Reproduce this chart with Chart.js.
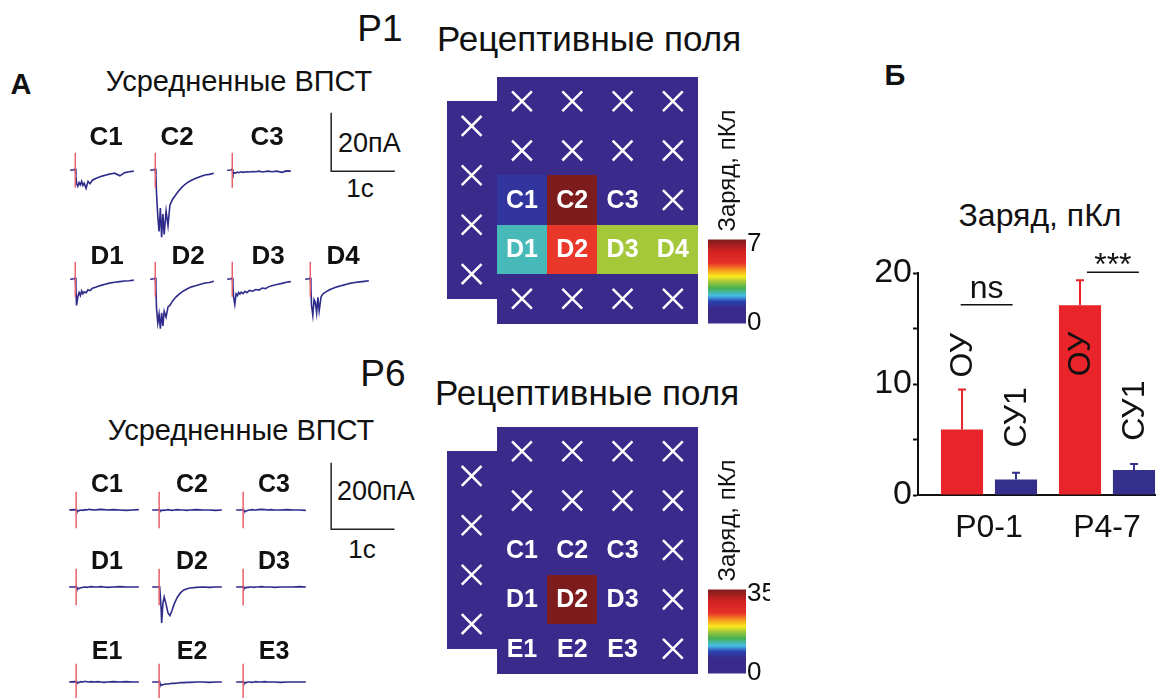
<!DOCTYPE html>
<html>
<head>
<meta charset="utf-8">
<script src="https://cdn.jsdelivr.net/npm/chart.js@4.4.1/dist/chart.umd.min.js"></script>
<style>
  body { margin: 0; width: 1156px; height: 698px; overflow: hidden; background: #fff; position: relative;
         font-family: 'Liberation Sans', Arial, sans-serif; color: #111; }
  canvas { position: absolute; }
  .t { position: absolute; transform: translate(-50%, -50%); line-height: 1; white-space: nowrap; }
  .l { transform: translate(0, -50%); }
  .b { font-weight: bold; }
</style>
</head>
<body>
<div class="t b" style="left:21px;top:84px;font-size:29px">А</div>
<div class="t b" style="left:895px;top:75px;font-size:29px">Б</div>

<div class="t" style="left:380px;top:28px;font-size:37px">P1</div>
<div class="t" style="left:589px;top:38px;font-size:35px">Рецептивные поля</div>
<div class="t" style="left:239px;top:81px;font-size:29px">Усредненные ВПСТ</div>
<div class="t l" style="left:338px;top:143px;font-size:27px">20пА</div>
<div class="t" style="left:360px;top:188px;font-size:26px">1с</div>

<div class="t" style="left:383px;top:373px;font-size:37px">P6</div>
<div class="t" style="left:587px;top:392px;font-size:35px">Рецептивные поля</div>
<div class="t" style="left:241px;top:430px;font-size:29px">Усредненные ВПСТ</div>
<div class="t l" style="left:337px;top:491px;font-size:27px">200пА</div>
<div class="t" style="left:362px;top:549px;font-size:26px">1с</div>

<div class="t" style="left:1040px;top:215px;font-size:32px">Заряд, пКл</div>

<script>
// ---- averaged EPSC traces, P1 (time in s, current in pA) ----
const tP1 = [0, 0.06, 0.08, 0.09, 0.10, 0.12, 0.14, 0.16, 0.18, 0.20, 0.22, 0.25, 0.28,
             0.31, 0.35, 0.40, 0.45, 0.50, 0.55, 0.60, 0.65, 0.70, 0.78, 0.86, 0.93, 1.0];
const p1C1 = [0, 0.2, 0.5, -2, -4.5, -5.5, -4.2, -5, -3.8, -5.2, -4.4, -6.2, -3.8, -4.6, -3.4, -2.8, -2.4, -2.0, -1.7, -1.4, -1.2, -1.0, -1.9, -0.8, -0.5, -0.3];
const p1C2 = [0, 0.2, 0.5, -2, -8, -16, -21, -13, -23, -15, -22, -14, -19, -12, -10, -8.5, -7, -5.8, -4.8, -4, -3.4, -2.9, -2.2, -1.6, -1.4, -1.0];
const p1C3 = [0, 0.1, 0.4, -0.6, -1.1, -0.8, -0.9, -0.6, -0.8, -0.7, -0.5, -0.7, -0.6, -0.5, -0.6, -0.4, -0.5, -0.3, -0.6, -0.4, -0.3, -0.5, -0.3, -0.7, -0.2, -0.3];
const p1D1 = [0, 0.2, 0.5, -3, -9, -6, -4.5, -5.6, -4, -5, -4.3, -4.6, -3.6, -3.9, -3.1, -2.7, -2.3, -2.0, -1.7, -1.4, -1.2, -1.0, -0.8, -0.6, -0.5, -0.3];
const p1D2 = [0, 0.2, 0.5, -3, -10, -15, -12, -17, -11.5, -16, -11, -13, -9.5, -9, -7.5, -6.2, -5.2, -4.3, -3.7, -3.1, -2.6, -2.3, -1.8, -1.3, -1.1, -0.7];
const p1D3 = [0, 0.2, 0.5, -2, -6, -8.6, -5, -5.6, -4.5, -5.1, -4.4, -4.9, -4.1, -4.6, -3.8, -4.1, -3.5, -3.7, -3.0, -3.2, -2.6, -2.2, -1.8, -1.4, -1.0, -0.8];
const p1D4 = [0, 0.2, 0.5, -3, -9, -12.4, -7, -8, -11.5, -6.2, -10.8, -6, -5, -4.6, -4, -3.4, -3, -2.6, -2.3, -2, -1.7, -1.4, -1.1, -0.9, -0.7, -0.5];
const stimP1 = 0.08;

// ---- averaged EPSC traces, P6 ----
const tP6 = [0, 0.08, 0.10, 0.11, 0.12, 0.14, 0.15, 0.17, 0.19, 0.22, 0.25, 0.28,
             0.31, 0.35, 0.40, 0.45, 0.50, 0.55, 0.60, 0.70, 0.80, 0.90, 1.0, 1.1];
const p6C1 = [0, 1, 0, 2, -2, -3, -2, -1, 0, -1, 1, 0, 2, 1, 0, 1, 2, 1, 0, 1, 0, -1, 0, 1];
const p6C2 = [0, 0, 1, 2, -1, -2, -1, 0, -1, 0, 1, 0, -1, 0, 1, 0, 0, -1, 0, 1, 0, 0, -1, 0];
const p6C3 = [0, 0, 1, 2, -2, -4, -3, -2, -1, 0, 1, 0, 0, 1, 2, 1, 0, 1, 0, 0, 1, 0, 0, -1];
const p6D1 = [0, 0, 1, 2, -3, -5, -4, -3, -2, -1, 0, -1, 0, 1, 0, 0, 1, 0, -1, 0, 1, 0, 0, 0];
const p6D2 = [0, 0, 1, 2, -3, -60, -108, -48, -30, -52, -78, -86, -72, -50, -30, -17, -9, -5, -3, -1, 0, -1, 0, 0];
const p6D3 = [0, 0, 1, 2, -2, -3, -2, -1, -1, 0, 0, -1, 0, 0, 1, 0, 0, 0, -1, 0, 0, 0, 1, 0];
const p6E1 = [0, 1, 0, 2, -1, -2, -1, 0, 1, 0, 2, 1, 0, 1, 0, 1, 0, -1, 0, 1, 0, 1, 0, 0];
const p6E2 = [0, 0, 1, 2, -4, -8, -9, -8, -7, -6, -6, -5, -4, -4, -3, -2, -2, -1, -1, 0, 0, -1, 0, 0];
const p6E3 = [0, 0, 1, 2, -2, -3, -2, -1, 0, 0, -1, 0, 1, 0, 0, 1, 0, 0, 0, -1, 0, 0, 0, 0];
const stimP6 = 0.11;

// scale bars: [time s], [current pA]
const barTime = [0, 0, 1];
const barP1 = [20, 0, 0];
const barP6 = [200, 0, 0];

// ---- receptive fields (charge, pC) ----
const leftSites = ['×', '×', '×', '×'];   // outer column, shifted by half a row
const p1Sites = [['×', '×', '×', '×'], ['×', '×', '×', '×'], ['C1', 'C2', 'C3', '×'], ['D1', 'D2', 'D3', 'D4'], ['×', '×', '×', '×']];
const p1Charge = [[0, 0, 0, 0], [0, 0, 0, 0], [1.55, 7, 0, 0], [2.5, 5.0, 3.5, 3.5], [0, 0, 0, 0]];
const p1Max = 7;
const p6Sites = [['×', '×', '×', '×'], ['×', '×', '×', '×'], ['C1', 'C2', 'C3', '×'], ['D1', 'D2', 'D3', '×'], ['E1', 'E2', 'E3', '×']];
const p6Charge = [[0, 0, 0, 0], [0, 0, 0, 0], [0, 0, 0, 0], [0, 35, 0, 0], [0, 0, 0, 0]];
const p6Max = 35;

// ---- Б: charge by age ----
const ages = ['P0-1', 'P4-7'];
const ouMean = [5.9, 17.1];
const ouErr = [3.6, 2.25];
const su1Mean = [1.4, 2.25];
const su1Err = [0.6, 0.55];
const seriesNames = ['ОУ', 'СУ1'];
const sigText = ['ns', '***'];

const TRACE = '#2e2b8b', STIM = '#e8606c', NAVY = '#3a2a8c', RED = '#e9242a', BARBLUE = '#35308c';
const JET = [[0, '#3a2a8c'], [0.18, '#3a2a8c'], [0.26, '#2b3fae'], [0.33, '#46bde6'], [0.42, '#48b050'],
             [0.50, '#a4c83a'], [0.56, '#fbe91c'], [0.63, '#f7a11c'], [0.72, '#e8302a'], [0.86, '#d12222'], [1, '#7d1c1c']];

Chart.defaults.font.family = "'Liberation Sans', Arial, sans-serif";
Chart.defaults.color = '#111';
Chart.defaults.animation = false;
Chart.defaults.responsive = false;
Chart.defaults.events = [];
Chart.defaults.plugins.legend.display = false;
Chart.defaults.plugins.tooltip.enabled = false;

function mk(left, top, w, h) {
  const c = document.createElement('canvas');
  c.width = w; c.height = h;
  c.style.left = left + 'px'; c.style.top = top + 'px';
  document.body.appendChild(c);
  return c;
}

function hex(c) { return [1, 3, 5].map(i => parseInt(c.substr(i, 2), 16)); }
function jet(f) {
  for (let i = 1; i < JET.length; i++) {
    if (f <= JET[i][0]) {
      const a = hex(JET[i - 1][1]), b = hex(JET[i][1]);
      const k = (f - JET[i - 1][0]) / (JET[i][0] - JET[i - 1][0]);
      return 'rgb(' + a.map((v, j) => Math.round(v + (b[j] - v) * k)).join(',') + ')';
    }
  }
  return JET[JET.length - 1][1];
}

// one small trace panel
function trace(left, top, t, v, p) {
  new Chart(mk(left, top, p.w, p.h), {
    type: 'scatter',
    data: {
      datasets: [
        { data: t.map((x, i) => ({ x: x, y: v[i] })), showLine: true, borderColor: TRACE, borderWidth: 1.6, pointRadius: 0, order: 1 },
        { data: [{ x: p.stim, y: -p.amp }, { x: p.stim, y: p.amp }], showLine: true, borderColor: STIM, borderWidth: 1.5, pointRadius: 0, order: 0 }
      ]
    },
    options: {
      layout: { padding: 0 },
      scales: { x: { display: false, min: -0.05, max: p.xmax }, y: { display: false, min: p.ymin, max: p.ymax } }
    }
  });
}

function scaleBar(left, top, y, p) {
  new Chart(mk(left, top, p.w, p.h), {
    type: 'scatter',
    data: { datasets: [{ data: barTime.map((x, i) => ({ x: x, y: y[i] })), showLine: true, borderColor: '#222', borderWidth: 1.5, pointRadius: 0 }] },
    options: { layout: { padding: 0 }, scales: { x: { display: false, min: -0.05, max: p.xmax }, y: { display: false, min: p.ymin, max: p.ymax } } }
  });
}

function label(x, y, text, size) {
  const d = document.createElement('div');
  d.className = 't b';
  d.style.left = x + 'px'; d.style.top = y + 'px'; d.style.fontSize = size + 'px';
  d.textContent = text;
  document.body.appendChild(d);
}

// P1 traces
const top1 = { w: 70, h: 99, xmax: 1.05, ymin: -26, ymax: 8, stim: stimP1, amp: 6 };
[[p1C1, p1C2, p1C3], [p1D1, p1D2, p1D3, p1D4]].forEach((row, r) => {
  row.forEach((v, c) => trace([67, 147, 224, 302][c], [147, 256][r], tP1, v, top1));
});
[['C1', 106, 136], ['C2', 177, 136], ['C3', 267, 136], ['D1', 107, 255], ['D2', 188, 255], ['D3', 268, 255], ['D4', 343, 255]]
  .forEach(l => label(l[1], l[2], l[0], 26));
scaleBar(328, 107, barP1, { w: 70, h: 70, xmax: 1.05, ymin: -2, ymax: 22 });

// P6 traces
const top6 = { w: 76, h: 60, xmax: 1.15, ymin: -120, ymax: 60, stim: stimP6, amp: 55 };
[[p6C1, p6C2, p6C3], [p6D1, p6D2, p6D3], [p6E1, p6E2, p6E3]].forEach((row, r) => {
  row.forEach((v, c) => trace([66, 149, 233][c], [490, 567, 662][r], tP6, v, top6));
});
[['C', 483], ['D', 560], ['E', 650]].forEach(r => {
  [107, 192, 274].forEach((x, c) => label(x, r[1], r[0] + (c + 1), 25));
});
scaleBar(328, 456, barP6, { w: 76, h: 80, xmax: 1.15, ymin: -20, ymax: 220 });

// receptive field map
const fieldPlugin = {
  id: 'field',
  beforeDatasetsDraw(chart, args, o) {
    const { ctx, scales: { x, y } } = chart;
    const X = v => Math.round(x.getPixelForValue(v)), Y = v => Math.round(y.getPixelForValue(v));
    ctx.save();
    ctx.fillStyle = NAVY;
    ctx.fillRect(X(0), Y(0.5), X(1) - X(0), Y(leftSites.length + 0.5) - Y(0.5));
    ctx.fillRect(X(1), Y(0), X(5) - X(1), Y(5) - Y(0));
    o.charge.forEach((row, r) => row.forEach((v, c) => {
      if (v > 0) {
        ctx.fillStyle = jet(v / o.vmax);
        ctx.fillRect(X(c + 1), Y(r), X(c + 2) - X(c + 1), Y(r + 1) - Y(r));
      }
    }));
    ctx.restore();
  },
  afterDatasetsDraw(chart, args, o) {
    const { ctx, chartArea: a, scales: { x, y } } = chart;
    ctx.save();
    ctx.fillStyle = '#fff';
    ctx.font = "bold 25px 'Liberation Sans', Arial";
    ctx.textAlign = 'center'; ctx.textBaseline = 'middle';
    o.sites.forEach((row, r) => row.forEach((s, c) => {
      if (s !== '×') ctx.fillText(s, x.getPixelForValue(c + 1.5), y.getPixelForValue(r + 0.5) + 1);
    }));
    // colour bar
    const cx = a.right + 10, cw = 38, cb = a.bottom, ct = a.bottom - 84;
    const g = ctx.createLinearGradient(0, cb, 0, ct);
    JET.forEach(s => g.addColorStop(s[0], s[1]));
    ctx.fillStyle = g;
    ctx.fillRect(cx, ct, cw, cb - ct);
    ctx.fillStyle = '#111';
    ctx.font = "26px 'Liberation Sans', Arial";
    ctx.textAlign = 'left';
    ctx.fillText(String(o.vmax), cx + cw + 1, ct + 4);
    ctx.fillText('0', cx + cw + 1, cb - 1);
    ctx.translate(a.right + 30, a.bottom - 153);
    ctx.rotate(-Math.PI / 2);
    ctx.textAlign = 'center';
    ctx.font = "24px 'Liberation Sans', Arial";
    ctx.fillText('Заряд, пКл', 0, 0);
    ctx.restore();
  }
};

function fieldMap(top, sites, charge, vmax) {
  const pts = leftSites.map((s, i) => ({ x: 0.5, y: i + 1 }));
  sites.forEach((row, r) => row.forEach((s, c) => { if (s === '×') pts.push({ x: c + 1.5, y: r + 0.5 }); }));
  new Chart(mk(430, top, 340, 280), {
    type: 'scatter',
    data: { datasets: [{ data: pts, pointStyle: 'crossRot', pointRadius: 14, pointBorderColor: '#fff', pointBorderWidth: 2.5, pointBackgroundColor: '#fff' }] },
    options: {
      layout: { padding: { left: 5, top: 8, right: 72, bottom: 14 } },
      scales: { x: { display: false, min: 0, max: 5 }, y: { display: false, min: 0, max: 5, reverse: true } },
      plugins: { field: { sites: sites, charge: charge, vmax: vmax } }
    },
    plugins: [fieldPlugin]
  });
}
fieldMap(60, p1Sites, p1Charge, p1Max);
fieldMap(410, p6Sites, p6Charge, p6Max);

// Б: bars with error bars and annotations
const barNotes = {
  id: 'notes',
  afterDatasetsDraw(chart) {
    const { ctx, scales: { x, y } } = chart;
    ctx.save();
    chart.data.datasets.forEach((ds, di) => {
      chart.getDatasetMeta(di).data.forEach((bar, i) => {
        const top = y.getPixelForValue(ds.data[i].y + ds.err[i]);
        ctx.strokeStyle = ds.backgroundColor; ctx.lineWidth = 2;
        ctx.beginPath();
        ctx.moveTo(bar.x, bar.y); ctx.lineTo(bar.x, top);
        ctx.moveTo(bar.x - 4, top); ctx.lineTo(bar.x + 4, top);
        ctx.stroke();
        // rotated series name
        const at = [[12.6, 12.7], [7.0, 7.6]][di][i];
        ctx.save();
        ctx.translate(bar.x + 10, y.getPixelForValue(at));
        ctx.rotate(-Math.PI / 2);
        ctx.fillStyle = '#111';
        ctx.font = "32px 'Liberation Sans', Arial";
        ctx.textAlign = 'center'; ctx.textBaseline = 'alphabetic';
        ctx.fillText(seriesNames[di], 0, 0);
        ctx.restore();
      });
    });
    // significance
    ctx.strokeStyle = '#111'; ctx.lineWidth = 1.5; ctx.fillStyle = '#111';
    ctx.font = "32px 'Liberation Sans', Arial"; ctx.textAlign = 'center';
    sigText.forEach((s, i) => {
      const cx = [-0.02, 1.05][i], ly = [17.15, 20.06][i];
      const py = y.getPixelForValue(ly);
      ctx.beginPath();
      ctx.moveTo(x.getPixelForValue(cx - 0.22), py); ctx.lineTo(x.getPixelForValue(cx + 0.22), py);
      ctx.stroke();
      ctx.fillText(s, x.getPixelForValue(cx), i === 0 ? py - 7 : py + 3);
    });
    ctx.restore();
  }
};

new Chart(mk(860, 190, 296, 350), {
  type: 'bar',
  data: {
    datasets: [
      { data: ages.map((a, i) => ({ x: i, y: ouMean[i] })), err: ouErr, backgroundColor: RED, categoryPercentage: 0.915, barPercentage: 0.78 },
      { data: ages.map((a, i) => ({ x: i, y: su1Mean[i] })), err: su1Err, backgroundColor: BARBLUE, categoryPercentage: 0.915, barPercentage: 0.78 }
    ]
  },
  options: {
    layout: { padding: { top: 83, left: 0, right: 0, bottom: 0 } },
    scales: {
      x: {
        type: 'linear', min: -0.6017, max: 1.4153, offset: false, bounds: 'data',
        afterBuildTicks: s => { s.ticks = ages.map((a, i) => ({ value: i })); },
        afterFit: s => { s.height = 45; },
        ticks: { callback: v => ages[v], font: { size: 32 }, color: '#111', padding: 6, maxRotation: 0 },
        grid: { display: false, offset: false },
        border: { color: '#111', width: 2 }
      },
      y: {
        min: 0, max: 20,
        afterFit: s => { s.width = 58; },
        ticks: { stepSize: 5, callback: v => (v % 10 === 0 ? v : ''), font: { size: 34 }, color: '#111', padding: 1 },
        grid: { drawOnChartArea: false, tickLength: 5, color: '#111', tickWidth: 2 },
        border: { color: '#111', width: 2 }
      }
    }
  },
  plugins: [barNotes]
});
</script>
</body>
</html>
